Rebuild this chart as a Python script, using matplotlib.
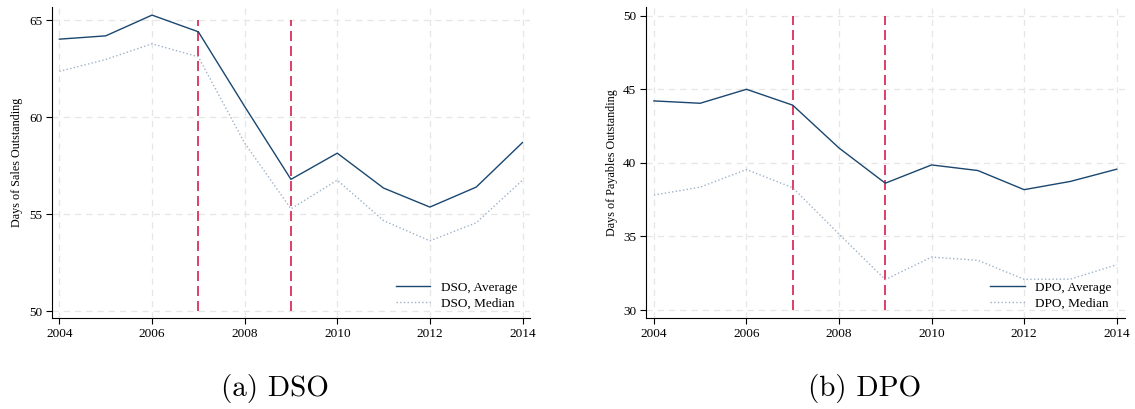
import matplotlib.pyplot as plt

years = [2004, 2005, 2006, 2007, 2008, 2009, 2010, 2011, 2012, 2013, 2014]

dso_avg = [64.02, 64.19, 65.26, 64.40, 60.55, 56.79, 58.14, 56.34, 55.36, 56.39, 58.69]
dso_med = [62.36, 62.97, 63.78, 63.11, 58.66, 55.27, 56.75, 54.66, 53.62, 54.55, 56.75]
dpo_avg = [44.21, 44.05, 45.00, 43.92, 41.01, 38.62, 39.86, 39.48, 38.18, 38.74, 39.57]
dpo_med = [37.81, 38.35, 39.55, 38.31, 35.16, 32.07, 33.60, 33.38, 32.09, 32.10, 33.08]

crisis_years = [2007, 2009]
x_ticks = [2004, 2006, 2008, 2010, 2012, 2014]
dso_ticks = [50, 55, 60, 65]
dpo_ticks = [30, 35, 40, 45, 50]

plt.rcParams['font.family'] = ['Liberation Serif', 'DejaVu Serif']

fig = plt.figure(figsize=(11.35, 4.09), dpi=100)
ax1 = fig.add_axes([0.0458, 0.2225, 0.4215, 0.760])
ax2 = fig.add_axes([0.5692, 0.2225, 0.4220, 0.760])


def panel(ax, avg, med, name, ylabel, yticks, ylim, xlim):
    for t in x_ticks:
        ax.axvline(t, color='#e6e6e6', linestyle=(0, (5, 4)), linewidth=0.9, zorder=0)
    for t in yticks:
        ax.axhline(t, color='#e6e6e6', linestyle=(0, (5, 4)), linewidth=0.9, zorder=0)
    ax.vlines(crisis_years, yticks[0], yticks[-1], color='#d81e4e',
              linestyle=(0, (6, 3)), linewidth=1.2, zorder=1)
    ax.plot(years, avg, color='#1a476f', linewidth=1.0, label=name + ', Average', zorder=3)
    ax.plot(years, med, color='#9db2c8', linewidth=1.0, linestyle=':', label=name + ', Median', zorder=2)
    ax.set_xlim(xlim)
    ax.set_ylim(ylim)
    ax.set_xticks(x_ticks)
    ax.set_yticks(yticks)
    ax.tick_params(labelsize=9.5, length=4, width=0.8, direction='out', pad=3)
    ax.set_ylabel(ylabel, fontsize=8.7, labelpad=4)
    for s in ['top', 'right']:
        ax.spines[s].set_visible(False)
    ax.legend(loc='lower right', bbox_to_anchor=(0.99, 0.0), frameon=False,
              fontsize=9.5, handlelength=2.6, borderaxespad=0.25, labelspacing=0.25)


panel(ax1, dso_avg, dso_med, 'DSO', 'Days of Sales Outstanding', dso_ticks,
      (49.64, 65.67), (2003.84, 2014.17))
panel(ax2, dpo_avg, dpo_med, 'DPO', 'Days of Payables Outstanding', dpo_ticks,
      (29.46, 50.58), (2003.83, 2014.18))

fig.text(0.242, 0.051, '(a) DSO', family='cmr10', fontsize=21, ha='center', va='center')
fig.text(0.762, 0.051, '(b) DPO', family='cmr10', fontsize=21, ha='center', va='center')

fig.savefig('out.png', dpi=100)
